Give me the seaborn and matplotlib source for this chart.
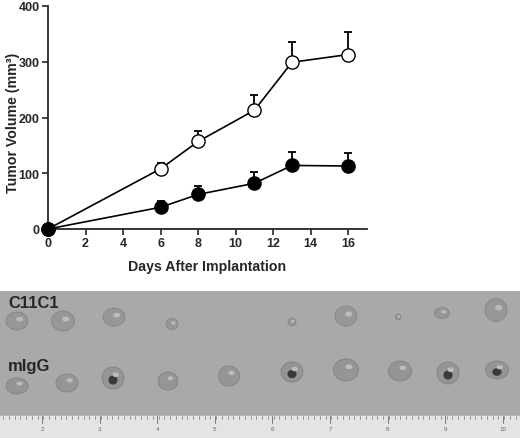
import numpy as np
import pandas as pd
import seaborn as sns
import matplotlib.pyplot as plt
from matplotlib.patches import Ellipse, Rectangle

# data
days = [0, 6, 8, 11, 13, 16]
migg_mean = [0, 108, 157, 213, 299, 313]
migg_err = [0, 10, 19, 28, 37, 40]
c11c1_mean = [0, 39, 62, 82, 114, 113]
c11c1_err = [0, 11, 16, 20, 24, 23]

# photo panel (pixel positions of the tumours)
top_x = [17, 63, 114, 172, 292, 346, 398, 442, 496]
top_y = [322, 322, 318, 325, 323, 317, 318, 314, 311]
top_w = [22, 23, 22, 12, 8, 22, 5, 15, 22]
top_h = [18, 20, 18, 11, 8, 20, 6, 11, 23]
bot_x = [17, 67, 113, 168, 229, 292, 346, 400, 448, 497]
bot_y = [387, 384, 379, 382, 377, 373, 371, 372, 374, 371]
bot_w = [22, 22, 22, 20, 21, 22, 25, 23, 22, 23]
bot_h = [16, 18, 22, 18, 20, 20, 22, 20, 22, 18]
bot_spot = [0, 0, 1, 0, 0, 1, 0, 0, 1, 1]
ruler_labels = ["2", "3", "4", "5", "6", "7", "8", "9", "10"]

sns.set_style("ticks")
plt.rcParams['font.family'] = ['Liberation Sans', 'DejaVu Sans']

fig = plt.figure(figsize=(5.2, 4.39), dpi=100)
W, H = 520, 439

# ---- line chart ----
ax = fig.add_axes([48 / W, 1 - 230 / H, (367 - 48) / W, (230 - 7) / H])
df = pd.DataFrame({"day": days * 2,
                   "vol": migg_mean + c11c1_mean,
                   "grp": ["mIgG"] * len(days) + ["C11C1"] * len(days)})
for grp, mean, err, fc in [("mIgG", migg_mean, migg_err, "white"),
                           ("C11C1", c11c1_mean, c11c1_err, "black")]:
    ax.errorbar(days, mean, yerr=[np.zeros(len(err)), err], fmt="none",
                ecolor="black", elinewidth=1.3, capsize=3, capthick=1.3, zorder=2)
    sns.lineplot(data=df[df.grp == grp], x="day", y="vol", ax=ax, color="black",
                 linewidth=1.2, marker="o", markersize=9.5, markerfacecolor=fc,
                 markeredgecolor="black", markeredgewidth=1.0, zorder=3)

ax.set_xlim(0, 17)
ax.set_ylim(0, 400)
ax.set_xticks(range(0, 17, 2))
ax.set_yticks([0, 100, 200, 300, 400])
ax.tick_params(direction="out", length=4, width=1.2, labelsize=9, pad=2)
for t in ax.get_xticklabels() + ax.get_yticklabels():
    t.set_fontweight("bold")
for s in ["left", "bottom"]:
    ax.spines[s].set_linewidth(1.3)
sns.despine(ax=ax)
for ln in ax.lines:
    ln.set_clip_on(False)
ax.set_xlabel("Days After Implantation", fontsize=10.2, fontweight="bold")
ax.xaxis.set_label_coords(0.5, -0.135)
ax.set_ylabel("Tumor Volume (mm³)", fontsize=10.2, fontweight="bold")
ax.yaxis.set_label_coords(-0.088, 0.48)

# ---- photo panel ----
px = fig.add_axes([0, 0, 1, (H - 292) / H])
px.set_xlim(0, W)
px.set_ylim(H, 292)
px.axis("off")
px.add_patch(Rectangle((0, 292), W, 125, color="#a9a9a9", zorder=0))
px.add_patch(Rectangle((0, 417), W, 22, color="#e4e4e4", zorder=0))
for xv in np.arange(3, W, 5.76):
    px.plot([xv, xv], [417, 420], color="#777777", lw=0.5)
for i, lab in enumerate(ruler_labels):
    xv = 42 + i * 57.6
    px.plot([xv, xv], [417, 424], color="#666666", lw=0.6)
    px.text(xv, 430, lab, fontsize=4.5, color="#666666", ha="center", va="center")

for x, y, w, h in zip(top_x, top_y, top_w, top_h):
    px.add_patch(Ellipse((x, y), w, h, facecolor="#979797", edgecolor="#858585", lw=0.6))
    px.add_patch(Ellipse((x + w * 0.12, y - h * 0.1), w * 0.25, h * 0.18, color="#bcbcbc"))
for x, y, w, h, sp in zip(bot_x, bot_y, bot_w, bot_h, bot_spot):
    px.add_patch(Ellipse((x, y), w, h, facecolor="#959595", edgecolor="#828282", lw=0.6))
    if sp:
        px.add_patch(Ellipse((x, y + 2), w * 0.35, h * 0.35, color="#3a3a3a"))
    px.add_patch(Ellipse((x + w * 0.12, y - h * 0.15), w * 0.22, h * 0.15, color="#bdbdbd"))

px.text(8, 304, "C11C1", fontsize=12, fontweight="bold", va="center", ha="left")
px.text(8, 366, "mIgG", fontsize=12, fontweight="bold", va="center", ha="left")

fig.savefig("out.png", dpi=100)
